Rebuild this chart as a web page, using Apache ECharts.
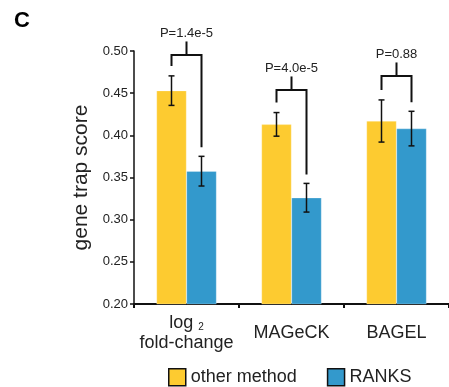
<!DOCTYPE html>
<html><head><meta charset="utf-8">
<script src="https://cdn.jsdelivr.net/npm/echarts@6/dist/echarts.min.js"></script>
<style>html,body{margin:0;padding:0;background:#fff}#c{width:449px;height:387px}</style>
</head><body><div id="c"></div>
<script>
const categories = ['log2', 'MAGeCK', 'BAGEL'];
const otherMean = [0.453, 0.413, 0.417];
const otherErr = [0.0175, 0.014, 0.025];
const ranksMean = [0.3575, 0.326, 0.408];
const ranksErr = [0.0176, 0.017, 0.0205];
const bracketLevel = [0.4953, 0.4538, 0.4704];
const pLabels = ['P=1.4e-5', 'P=4.0e-5', 'P=0.88'];
const yTicks = [0.20, 0.25, 0.30, 0.35, 0.40, 0.45, 0.50];

const FONT = 'Liberation Sans, Arial, Helvetica, sans-serif';
const YEL = '#FDCB30', BLU = '#3399CC';
const HALF = 15;

const chart = echarts.init(document.getElementById('c'), null, {renderer: 'canvas'});

function errItem(off) {
  return function (params, api) {
    const c = api.value(0), m = api.value(1), e = api.value(2);
    const hi = api.coord([c, m + e]), lo = api.coord([c, m - e]);
    const x = hi[0] + off;
    const st = {stroke: '#111', lineWidth: 1.5};
    return {type: 'group', children: [
      {type: 'line', shape: {x1: x, y1: hi[1], x2: x, y2: lo[1]}, style: st},
      {type: 'line', shape: {x1: x - 3, y1: hi[1], x2: x + 3, y2: hi[1]}, style: st},
      {type: 'line', shape: {x1: x - 3, y1: lo[1], x2: x + 3, y2: lo[1]}, style: st}
    ]};
  };
}

const bracketData = categories.map((c, i) => [i, bracketLevel[i], otherMean[i] + otherErr[i], ranksMean[i] + ranksErr[i]]);

chart.setOption({
  animation: false,
  textStyle: {fontFamily: FONT},
  title: {text: 'C', left: 9, top: 5, textStyle: {fontSize: 22, fontWeight: 'bold', color: '#000', fontFamily: FONT}},
  grid: {left: 134, right: 0, top: 51, bottom: 83},
  legend: {
    left: 163, top: 363, itemWidth: 17, itemHeight: 17, itemGap: 30, icon: 'rect',
    textStyle: {fontSize: 18, color: '#222', fontFamily: FONT},
    data: [
      {name: 'other method', itemStyle: {color: YEL, borderColor: '#111', borderWidth: 1.5}},
      {name: 'RANKS', itemStyle: {color: BLU, borderColor: '#111', borderWidth: 1.5}}
    ]
  },
  xAxis: {
    type: 'category', data: categories,
    axisLine: {lineStyle: {color: '#111', width: 2}},
    axisTick: {show: true, length: 4, lineStyle: {color: '#111', width: 2}},
    axisLabel: {
      interval: 0, margin: 29, verticalAlign: 'middle', fontSize: 18, color: '#222', lineHeight: 20, fontFamily: FONT,
      formatter: v => v === 'log2' ? '{a|log }{s|2}\nfold-change' : v,
      rich: {a: {fontSize: 18, color: '#222', fontFamily: FONT}, s: {fontSize: 10, color: '#222', padding: [8, 0, 0, 0], fontFamily: FONT}}
    }
  },
  yAxis: {
    type: 'value', min: 0.2, max: 0.5, interval: 0.05,
    name: 'gene trap score', nameLocation: 'middle', nameGap: 33,
    nameTextStyle: {fontSize: 21, color: '#222', fontFamily: FONT},
    axisLine: {show: true, lineStyle: {color: '#111', width: 1.5}},
    axisTick: {show: true, length: 4, lineStyle: {color: '#111', width: 1.5}},
    splitLine: {show: false},
    axisLabel: {fontSize: 13, color: '#222', margin: 6, fontFamily: FONT,
      formatter: v => yTicks.find(t => Math.abs(t - v) < 1e-9) !== undefined ? v.toFixed(2) : ''}
  },
  series: [
    {name: 'other method', type: 'bar', data: otherMean, barWidth: 30, barGap: '0%',
      itemStyle: {color: YEL, borderColor: 'rgba(255,255,255,0.5)', borderWidth: 0.5}},
    {name: 'RANKS', type: 'bar', data: ranksMean, barWidth: 30, barGap: '0%',
      itemStyle: {color: BLU, borderColor: 'rgba(255,255,255,0.5)', borderWidth: 0.5}},
    {type: 'custom', name: 'errOther', data: categories.map((c, i) => [i, otherMean[i], otherErr[i]]),
      renderItem: errItem(-HALF), z: 5, silent: true},
    {type: 'custom', name: 'errRanks', data: categories.map((c, i) => [i, ranksMean[i], ranksErr[i]]),
      renderItem: errItem(HALF), z: 5, silent: true},
    {type: 'custom', name: 'brackets', data: bracketData, z: 6, silent: true, clip: false,
      renderItem: function (params, api) {
        const i = api.value(0);
        const top = api.coord([i, api.value(1)]);
        const lTop = api.coord([i, api.value(2)]);
        const rTop = api.coord([i, api.value(3)]);
        const xl = top[0] - HALF, xr = top[0] + HALF, y = top[1];
        const st = {stroke: '#111', lineWidth: 2, fill: null};
        return {type: 'group', children: [
          {type: 'polyline', shape: {points: [[xl, lTop[1] - 10], [xl, y], [xr, y], [xr, rTop[1] - 9]]}, style: st},
          {type: 'line', shape: {x1: top[0], y1: y, x2: top[0], y2: y - 13.5}, style: st},
          {type: 'text', style: {text: pLabels[params.dataIndex], x: top[0], y: y - 22, align: 'center', verticalAlign: 'middle',
            fontSize: 13, fill: '#222', fontFamily: FONT}}
        ]};
      }}
  ]
});
</script></body></html>
